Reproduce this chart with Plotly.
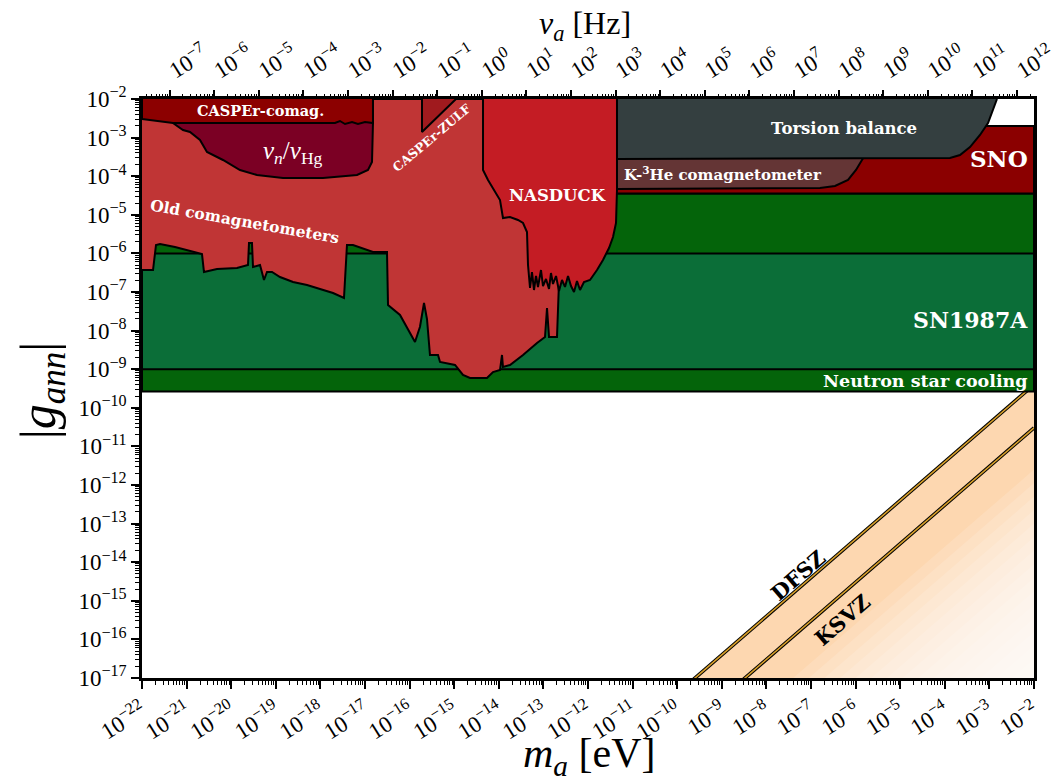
import numpy as np
import plotly.graph_objects as go

# ---------------- axis ranges (log10) ----------------
LOGM_MIN, LOGM_MAX = -22, -2
LOGG_MIN, LOGG_MAX = -17, -2
EV_TO_HZ = 2.418e14  # 1 eV -> Hz

# ---------------- constraint boundaries (log10 m_a [eV], log10 |g_ann|) ----------------
old_logm = [-22.00, -21.753, -21.686, -21.596, -21.260, -20.924, -20.655, -20.610, -20.318, -19.870,
            -19.623, -19.601, -19.534, -19.511, -19.354, -19.265, -19.197, -19.085, -18.906, -18.614,
            -18.300, -18.009, -17.717, -17.471, -17.404, -17.269, -16.821, -16.507, -16.484, -16.215,
            -16.058, -15.879, -15.767, -15.677, -15.610, -15.543, -15.363, -15.318, -14.982, -14.803,
            -14.646, -14.265, -14.130, -13.973, -13.928, -13.906, -13.749, -13.457, -13.143, -12.964,
            -12.919, -12.874, -12.695, -12.650, -12.583, -12.583]
old_logg = [-6.430, -6.430, -5.782, -5.756, -5.834, -5.938, -6.016, -6.482, -6.404, -6.378,
            -6.301, -5.731, -5.731, -6.352, -6.301, -6.689, -6.482, -6.482, -6.611, -6.741,
            -6.819, -6.922, -7.026, -7.155, -5.782, -5.782, -5.964, -5.964, -7.337, -7.596,
            -7.907, -8.295, -7.900, -7.285, -7.700, -8.632, -8.632, -8.813, -8.891, -9.150,
            -9.228, -9.228, -9.073, -9.021, -8.632, -8.943, -8.891, -8.632, -8.321, -8.166,
            -7.415, -8.166, -8.166, -6.767, -4.617, -2.0]

nasduck_logm = [-14.354, -14.354, -14.242, -14.085, -13.973, -13.906, -13.749, -13.570, -13.457, -13.368,
                -13.345, -13.300, -13.256, -13.211, -13.166, -13.121, -13.054, -13.009, -12.942, -12.874,
                -12.830, -12.785, -12.717, -12.650, -12.583, -12.516, -12.448, -12.381, -12.314, -12.247,
                -12.179, -12.090, -11.955, -11.798, -11.664, -11.529, -11.439, -11.372, -11.350, -11.350]
nasduck_logg = [-2.0, -3.839, -4.098, -4.409, -4.617, -5.083, -5.057, -5.135, -5.212, -5.446,
                -6.301, -6.896, -6.482, -6.948, -6.585, -6.870, -6.430, -6.845, -6.663, -6.922,
                -6.508, -6.793, -6.585, -6.974, -6.689, -6.870, -6.585, -6.845, -7.000, -6.715,
                -6.948, -6.741, -6.689, -6.430, -6.171, -5.860, -5.575, -5.212, -4.358, -2.0]

torsion_logm = [-11.350, -11.350, -3.883, -3.659, -3.435, -3.211, -3.031, -2.830]
torsion_logg = [-2.0, -3.554, -3.528, -3.451, -3.244, -2.933, -2.622, -2.0]

khe_logm = [-11.350, -11.350, -6.798, -6.462, -6.170, -5.991, -5.857, -5.565, -5.341]
khe_logg = [-2.0, -4.332, -4.306, -4.254, -4.098, -3.839, -3.580, -3.062, -2.0]

nedm_logm = [-21.305, -21.305, -21.081, -20.924, -20.700, -20.543, -20.184, -19.803, -19.422, -18.839,
             -17.942, -17.179, -16.933, -16.843, -16.821, -16.821]
nedm_logg = [-2.0, -2.622, -2.803, -2.855, -3.062, -3.373, -3.580, -3.839, -3.969, -4.047,
             -4.047, -3.969, -3.839, -3.632, -2.622, -2.0]

caspercomag_logm = [-22.0, -22.0, -21.305, -17.673, -17.561, -17.448, -17.291, -17.157, -17.000, -16.821, -16.821]
caspercomag_logg = [-2.0, -2.518, -2.622, -2.622, -2.570, -2.648, -2.596, -2.648, -2.596, -2.622, -2.0]

zulf_logm = [-15.722, -15.722, -14.960]
zulf_logg = [-2.0, -2.855, -2.0]

# horizontal bands (log10 g low, log10 g high)
ns_band = (-9.578, -4.448)
sn_band = (-9.0, -6.0)
sno_band = (-4.448, -2.70)

# QCD axion lines: log10 g - log10 m
dfsz_offset = -7.40
ksvz_offset = -8.52

# ---------------- colours ----------------
C_NS = "#04640a"
C_SN = "#0b6e38"
C_SNO = "#8b0000"
C_TORSION = "#343f40"
C_KHE = "#643535"
C_NASDUCK = "#c41c24"
C_OLD = "#c03535"
C_NEDM = "#7b0024"
C_CCOMAG = "#8c0000"
C_ZULF = "#a01a1e"
C_PEACH = "#fdd7b0"
C_GOLD = "#d9a02a"

FONT = "Liberation Serif"
LFONT = "DejaVu Serif"

fig = go.Figure()


def poly(logm, logg, color, name, lw=2):
    fig.add_trace(go.Scatter(
        x=[10 ** v for v in logm], y=[10 ** v for v in logg],
        mode="lines", fill="toself", fillcolor=color,
        line=dict(color="black", width=lw), hoverinfo="skip", showlegend=False, name=name))


def band(lo, hi, color, name):
    poly([LOGM_MIN, LOGM_MAX, LOGM_MAX, LOGM_MIN, LOGM_MIN], [lo, lo, hi, hi, lo], color, name)


# QCD axion band (below DFSZ)
fig.add_trace(go.Scatter(
    x=[10 ** (LOGG_MIN - dfsz_offset), 10 ** LOGM_MAX, 10 ** LOGM_MAX],
    y=[10 ** LOGG_MIN, 10 ** (LOGM_MAX + dfsz_offset), 10 ** LOGG_MIN],
    mode="lines", fill="toself", fillcolor=C_PEACH, line=dict(width=0),
    hoverinfo="skip", showlegend=False))
# fade toward the lower-right corner
for c in np.arange(-9.6, -14.9, -0.35):
    fig.add_trace(go.Scatter(
        x=[10 ** (LOGG_MIN - c), 10 ** LOGM_MAX, 10 ** LOGM_MAX],
        y=[10 ** LOGG_MIN, 10 ** (LOGM_MAX + c), 10 ** LOGG_MIN],
        mode="lines", fill="toself", fillcolor="rgba(255,255,255,0.14)", line=dict(width=0),
        hoverinfo="skip", showlegend=False))
for off in (dfsz_offset, ksvz_offset):
    xs = [10 ** -11.0, 10 ** LOGM_MAX]
    ys = [v * 10 ** off for v in xs]
    fig.add_trace(go.Scatter(x=xs, y=ys, mode="lines", line=dict(color="black", width=3.6),
                             hoverinfo="skip", showlegend=False))
    fig.add_trace(go.Scatter(x=xs, y=ys, mode="lines", line=dict(color=C_GOLD, width=1.6),
                             hoverinfo="skip", showlegend=False))

band(*ns_band, C_NS, "NS cooling")
band(*sn_band, C_SN, "SN1987A")
band(*sno_band, C_SNO, "SNO")
poly(khe_logm, khe_logg, C_KHE, "K-3He")
poly(torsion_logm, torsion_logg, C_TORSION, "Torsion")
poly(old_logm + [LOGM_MIN], old_logg + [LOGG_MAX], C_OLD, "Old comag")
poly(nedm_logm, nedm_logg, C_NEDM, "nEDM")
poly(caspercomag_logm, caspercomag_logg, C_CCOMAG, "CASPEr-comag")
poly(zulf_logm, zulf_logg, C_ZULF, "CASPEr-ZULF")
poly(nasduck_logm, nasduck_logg, C_NASDUCK, "NASDUCK")

# dummy trace for the frequency axis
fig.add_trace(go.Scatter(x=[10 ** LOGM_MIN * EV_TO_HZ, 10 ** LOGM_MAX * EV_TO_HZ],
                         y=[10 ** LOGG_MIN, 10 ** LOGG_MIN], xaxis="x2", mode="markers",
                         marker=dict(opacity=0), hoverinfo="skip", showlegend=False))

# ---------------- labels ----------------
labels = [
    # text, log m, log g, size, color, angle, xanchor
    ("CASPEr-comag.", -19.354, -2.285, 14.5, "white", 0, "center"),
    ("<i>ν<sub>n</sub></i>/<i>ν</i><sub>Hg</sub>", -18.614, -3.373, 25, "white", 0, "center"),
    ("CASPEr-ZULF", -15.50, -3.00, 12.5, "white", -40, "center"),
    ("Old comagnetometers", -19.691, -5.161, 15.5, "white", 10, "center"),
    ("NASDUCK", -12.673, -4.487, 16.5, "white", 0, "center"),
    ("Torsion balance", -6.26, -2.764, 16.5, "white", 0, "center"),
    ("K-<sup>3</sup>He comagnetometer", -8.973, -3.943, 15, "white", 0, "center"),
    ("SNO", -2.09, -3.554, 23, "white", 0, "right"),
    ("SN1987A", -2.09, -7.725, 22, "white", 0, "right"),
    ("Neutron star cooling", -2.09, -9.306, 17.5, "white", 0, "right"),
    ("DFSZ", -7.291, -14.332, 21, "black", -41, "center"),
    ("KSVZ", -6.283, -15.497, 21, "black", -41, "center"),
]
for txt, lx, ly, size, col, ang, xa in labels:
    weight = "normal" if "ν" in txt else "bold"
    t = txt if weight == "normal" else f"<b>{txt}</b>"
    fig.add_annotation(x=lx, y=ly, xref="x", yref="y", text=t, showarrow=False,
                       font=dict(family=FONT if weight == "normal" else LFONT, size=size, color=col),
                       textangle=ang, xanchor=xa)

# axis titles (placed as paper annotations)
axis_titles = [
    ("<i>m<sub>a</sub></i> [eV]", 0.502, -0.135, 42, 0),
    ("<i>ν<sub>a</sub></i> [Hz]", 0.497, 1.127, 32, 0),
    ("|<i>g<sub>ann</sub></i>|", -0.112, 0.497, 50, -90),
]
for txt, px, py, size, ang in axis_titles:
    fig.add_annotation(x=px, y=py, xref="paper", yref="paper", text=txt, showarrow=False,
                       font=dict(family=FONT, size=size, color="black"), textangle=ang,
                       xanchor="center", yanchor="middle")


# ---------------- axes ----------------
def sup(e):
    return f"10<sup>{'−' if e < 0 else ''}{abs(e)}</sup>"


def minor_vals(lo, hi):
    return [k * 10.0 ** e for e in range(lo - 1, hi + 1) for k in range(2, 10)
            if lo <= np.log10(k * 10.0 ** e) <= hi]


m_ticks = list(range(LOGM_MIN, LOGM_MAX + 1))
g_ticks = list(range(LOGG_MIN, LOGG_MAX + 1))
nu_lo = LOGM_MIN + np.log10(EV_TO_HZ)
nu_hi = LOGM_MAX + np.log10(EV_TO_HZ)
nu_ticks = list(range(int(np.ceil(nu_lo)), int(np.floor(nu_hi)) + 1))

tickfont = dict(family=FONT, size=23, color="black")
common = dict(type="log", showgrid=False, zeroline=False, ticks="outside", ticklen=8, tickwidth=1.5,
              tickcolor="black", tickfont=tickfont, automargin=False)

fig.update_layout(
    width=1060, height=783,
    margin=dict(l=142, r=26, t=99, b=105),
    plot_bgcolor="white", paper_bgcolor="white",
    font=dict(family=FONT, color="black"),
    xaxis=dict(**common, range=[LOGM_MIN, LOGM_MAX],
               tickmode="array", tickvals=[10.0 ** e for e in m_ticks], ticktext=[sup(e) for e in m_ticks],
               tickangle=-32, showline=True, linecolor="black", linewidth=2.5, mirror=True,
               minor=dict(ticks="outside", ticklen=4, tickcolor="black", tickwidth=1,
                          tickmode="array", tickvals=minor_vals(LOGM_MIN, LOGM_MAX))),
    xaxis2=dict(**common, range=[nu_lo, nu_hi], overlaying="x", side="top", anchor="y",
                tickmode="array", tickvals=[10.0 ** e for e in nu_ticks], ticktext=[sup(e) for e in nu_ticks],
                tickangle=-32, showline=False,
                minor=dict(ticks="outside", ticklen=4, tickcolor="black", tickwidth=1,
                           tickmode="array", tickvals=minor_vals(int(np.floor(nu_lo)), int(np.ceil(nu_hi))))),
    yaxis=dict(**common, range=[LOGG_MIN, LOGG_MAX],
               tickmode="array", tickvals=[10.0 ** e for e in g_ticks], ticktext=[sup(e) for e in g_ticks],
               showline=True, linecolor="black", linewidth=2.5, mirror=True,
               minor=dict(ticks="outside", ticklen=4, tickcolor="black", tickwidth=1,
                          tickmode="array", tickvals=minor_vals(LOGG_MIN, LOGG_MAX))),
)

fig.write_html("out.html", config={"displayModeBar": False},
               post_script="document.body.style.margin='0px';document.body.style.overflow='hidden';")
